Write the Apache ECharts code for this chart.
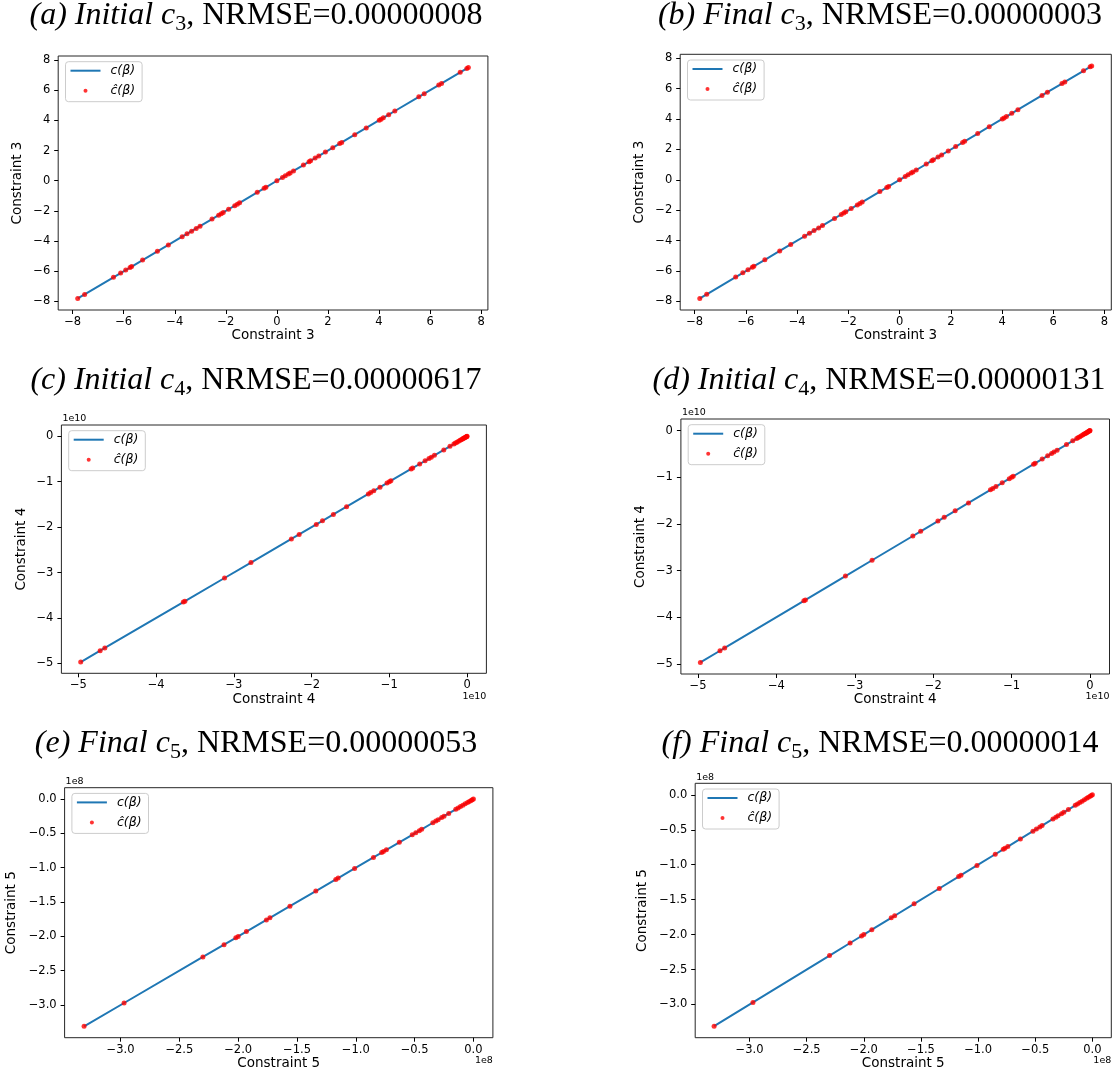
<!DOCTYPE html>
<html><head><meta charset="utf-8">
<script src="https://cdn.jsdelivr.net/npm/echarts@6/dist/echarts.min.js"></script>
<style>html,body{margin:0;padding:0;background:#fff}#chart{width:1117px;height:1075px}</style>
</head><body><div id="chart"></div>
<script>
// ---- data ----
const panelLabels = ['(a)', '(b)', '(c)', '(d)', '(e)', '(f)'];
const panelStages = ['Initial', 'Final', 'Initial', 'Initial', 'Final', 'Final'];
const panelConstraint = [3, 3, 4, 4, 5, 5];
const panelNrmse = ['0.00000008', '0.00000003', '0.00000617', '0.00000131', '0.00000053', '0.00000014'];
const seriesNames = ['c(\u03b2)', '\u0109(\u03b2)'];

// constraint 3 values (plain units)
const c3Values = [-7.8, -7.53, -6.4, -6.12, -5.92, -5.75, -5.69, -5.26, -4.68, -4.25, -3.71, -3.52, -3.34, -3.16, -3.01, -2.54, -2.28, -2.18, -2.1, -1.89, -1.65, -1.55, -1.46, -0.77, -0.5, -0.43, 0.0, 0.22, 0.33, 0.45, 0.52, 0.65, 1.04, 1.26, 1.32, 1.5, 1.64, 1.9, 2.19, 2.46, 2.54, 3.05, 3.5, 4.01, 4.08, 4.17, 4.38, 4.62, 5.56, 5.77, 6.34, 6.45, 7.18, 7.44, 7.5];
// constraint 4 values (in units of 1e10)
const c4Values = [-4.97, -4.72, -4.66, -3.65, -3.63, -3.12, -2.78, -2.26, -2.16, -1.94, -1.86, -1.72, -1.55, -1.27, -1.24, -1.2, -1.12, -1.03, -1.0, -0.98, -0.72, -0.7, -0.61, -0.54, -0.49, -0.46, -0.42, -0.3, -0.22, -0.17, -0.15, -0.13, -0.11, -0.09, -0.075, -0.06, -0.05, -0.04, -0.03, -0.02, -0.01, -0.005, 0.0];
// constraint 5 values (in units of 1e8)
const c5Values = [-3.31, -2.97, -2.3, -2.12, -2.02, -2.0, -1.93, -1.76, -1.73, -1.56, -1.34, -1.17, -1.15, -1.01, -0.85, -0.78, -0.765, -0.74, -0.63, -0.52, -0.49, -0.46, -0.44, -0.345, -0.32, -0.3, -0.27, -0.25, -0.21, -0.15, -0.13, -0.11, -0.09, -0.07, -0.05, -0.035, -0.02, -0.01, 0.0];

const c3Ticks = [-8, -6, -4, -2, 0, 2, 4, 6, 8];
const c4Ticks = [-5, -4, -3, -2, -1, 0];
const c5Ticks = [-3.0, -2.5, -2.0, -1.5, -1.0, -0.5, 0.0];
const offsetLabels = ['', '', '1e10', '1e10', '1e8', '1e8'];

// ---- layout (pixels) ----
const layout = [
  { l: 58.2, r: 487.9, t: 56, b: 310, yGap: 34, tx: 256, tb: 25 },
  { l: 680.2, r: 1111.3, t: 54.3, b: 310, yGap: 34, tx: 880, tb: 25 },
  { l: 61.4, r: 486.4, t: 425, b: 673.3, yGap: 33, tx: 256, tb: 390 },
  { l: 680.9, r: 1109.5, t: 419, b: 674, yGap: 33, tx: 879, tb: 390 },
  { l: 64.6, r: 492.9, t: 787.7, b: 1037.7, yGap: 46, tx: 256, tb: 753 },
  { l: 695.2, r: 1111.3, t: 783.3, b: 1037.7, yGap: 46, tx: 880, tb: 753 }
];

const groups = {
  3: { vals: c3Values, ticks: c3Ticks, dec: 0 },
  4: { vals: c4Values, ticks: c4Ticks, dec: 0 },
  5: { vals: c5Values, ticks: c5Ticks, dec: 1 }
};

const fmt = dec => v => (v < 0 ? '\u2212' : '') + Math.abs(v).toFixed(dec);

const grids = [], xAxes = [], yAxes = [], series = [], legends = [], graphics = [];

layout.forEach((p, i) => {
  const g = groups[panelConstraint[i]];
  const mn = Math.min(...g.vals), mx = Math.max(...g.vals);
  const pad = (mx - mn) * 0.05;
  const lo = mn - pad, hi = mx + pad;
  const axName = 'Constraint ' + panelConstraint[i];

  grids.push({ left: p.l, top: p.t, width: p.r - p.l, height: p.b - p.t, show: true,
    borderColor: '#262626', borderWidth: 1, backgroundColor: 'transparent', containLabel: false, outerBoundsMode: 'none' });

  const common = (isX) => ({
    type: 'value', gridIndex: i, min: lo, max: hi, scale: true,
    axisLine: { show: false, onZero: false },
    axisTick: { show: true, inside: false, length: 4, customValues: g.ticks, lineStyle: { color: '#000', width: 1 } },
    axisLabel: { customValues: g.ticks, formatter: fmt(g.dec), margin: isX ? 6 : 8, fontSize: 11.5, color: '#000', fontFamily: 'DejaVu Sans' },
    splitLine: { show: false },
    name: axName, nameLocation: 'middle', nameGap: isX ? 18 : p.yGap,
    nameTextStyle: { fontFamily: 'DejaVu Sans', fontSize: 13.5, color: '#000' }
  });
  xAxes.push(common(true));
  yAxes.push(Object.assign(common(false), { nameRotate: 90 }));

  const sorted = g.vals.slice().sort((a, b) => a - b);
  series.push({ type: 'line', name: seriesNames[0], xAxisIndex: i, yAxisIndex: i,
    data: sorted.map(v => [v, v]), symbol: 'none', showSymbol: false,
    lineStyle: { color: '#1f77b4', width: 2 }, itemStyle: { color: '#1f77b4' }, z: 2, silent: true });
  series.push({ type: 'scatter', name: seriesNames[1], xAxisIndex: i, yAxisIndex: i,
    data: g.vals.map(v => [v, v]), symbolSize: 5, itemStyle: { color: '#ff0000' }, z: 3, silent: true });

  legends.push({ left: p.l + 7.3, top: p.t + 5.7, orient: 'vertical',
    data: [{ name: seriesNames[0], icon: 'path://M0,0H15V1H0Z', itemStyle: { color: '#1f77b4' } },
           { name: seriesNames[1], icon: 'circle' }],
    itemWidth: 30, itemHeight: 4, itemGap: 6, padding: [2, 7, 4, 5],
    borderColor: '#cccccc', borderWidth: 1, borderRadius: 3, backgroundColor: 'rgba(255,255,255,0.8)',
    selectedMode: false,
    textStyle: { fontFamily: 'DejaVu Sans', fontStyle: 'italic', fontSize: 12.5, color: '#000', lineHeight: 14, padding: [0, 0, 0, 5] } });

  graphics.push({ type: 'text', x: p.tx, y: p.tb - 28, silent: true, style: {
    text: '{it|' + panelLabels[i] + ' ' + panelStages[i] + ' c}{sub|' + panelConstraint[i] + '}{rm|, NRMSE=' + panelNrmse[i] + '}',
    align: 'center', verticalAlign: 'top',
    rich: {
      it: { fontFamily: 'Liberation Serif', fontStyle: 'italic', fontSize: 32, lineHeight: 38, fill: '#000' },
      sub: { fontFamily: 'Liberation Serif', fontSize: 22, lineHeight: 21, verticalAlign: 'bottom', fill: '#000' },
      rm: { fontFamily: 'Liberation Serif', fontSize: 32, lineHeight: 38, fill: '#000' }
    }
  } });

  if (offsetLabels[i]) {
    graphics.push({ type: 'text', x: p.l + 1, y: p.t - 6, silent: true, style: {
      text: offsetLabels[i], fontFamily: 'DejaVu Sans', fontSize: 9.5, fill: '#000', align: 'left', verticalAlign: 'middle' } });
    graphics.push({ type: 'text', x: p.r, y: p.b + 23, silent: true, style: {
      text: offsetLabels[i], fontFamily: 'DejaVu Sans', fontSize: 9.5, fill: '#000', align: 'right', verticalAlign: 'middle' } });
  }
});

const chart = echarts.init(document.getElementById('chart'), null, { renderer: 'canvas' });
chart.setOption({
  animation: false,
  backgroundColor: '#ffffff',
  grid: grids, xAxis: xAxes, yAxis: yAxes, series: series, legend: legends, graphic: graphics
});
</script>
</body></html>
